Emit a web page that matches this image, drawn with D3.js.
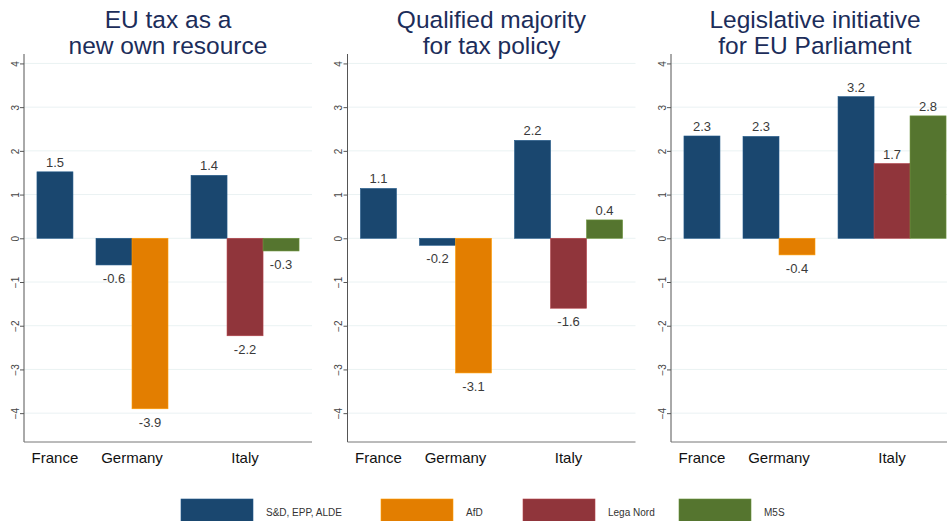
<!DOCTYPE html>
<html>
<head>
<meta charset="utf-8">
<script src="https://cdn.jsdelivr.net/npm/d3@7"></script>
<style>
	body{margin:0;background:#fff;}
	svg{display:block;font-family:"Liberation Sans",Arial,sans-serif;}
</style>
</head>
<body>
<div id="chart"></div>
<script>
// data
var panelTitles = [["EU tax as a","new own resource"],["Qualified majority","for tax policy"],["Legislative initiative","for EU Parliament"]]
var countries = ["France","Germany","Italy"]
var parties = ["S&D, EPP, ALDE","AfD","Lega Nord","M5S"]
var partyColors = ["#1a476f","#e37e00","#90353b","#55752f"]
// which parties are shown for each country (index into parties)
var countryParties = [[0],[0,1],[0,2,3]]
// values per panel, per country, per party shown
var euTax = [[1.52],[-0.61,-3.9],[1.44,-2.23,-0.29]]
var qmvTax = [[1.14],[-0.16,-3.08],[2.24,-1.6,0.42]]
var legInit = [[2.34],[2.33,-0.38],[3.24,1.71,2.8]]
var yTicks = [-4,-3,-2,-1,0,1,2,3,4]

var panels = [euTax,qmvTax,legInit]

var W = 947, H = 521
var svg = d3.select("#chart").append("svg").attr("width",W).attr("height",H)

var plotTop = 56, plotBottom = 442, plotW = 288, firstLeft = 24, panelStep = 323.5
// legend layout (box left edges)
var legendX = [181,381,523,679]

var y = d3.scaleLinear().domain([-4.66,4.17]).range([plotBottom,plotTop])
// x in "bar units": pad, France(1), gap, Germany(2), gap, Italy(3), pad
var x = d3.scaleLinear().domain([0,8]).range([0,plotW])
var pad = 0.36, gap = 0.64
var starts = []
var cur = pad
countryParties.forEach(function(p){ starts.push(cur); cur += p.length + gap })

panels.forEach(function(vals,pi){
	var left = firstLeft + pi*panelStep
	var g = svg.append("g").attr("transform","translate("+left+",0)")

	// grid
	g.selectAll(".grid").data(yTicks).enter().append("line")
		.attr("x1",0).attr("x2",plotW)
		.attr("y1",d=>y(d)).attr("y2",d=>y(d))
		.attr("stroke","#eaf2f3").attr("stroke-width",1)

	// y axis
	var ax = g.append("g").call(d3.axisLeft(y).tickValues(yTicks).tickSize(4).tickFormat(d3.format("d")))
	ax.select(".domain").remove()
	ax.selectAll(".tick line").attr("stroke","#555")
	ax.selectAll(".tick text")
		.attr("font-size",10).attr("fill","#444")
		.attr("x",0)
		.attr("text-anchor","middle")
		.attr("transform","translate(-9,0) rotate(-90)")
		.attr("dy","0.35em")
	g.append("line").attr("x1",0).attr("x2",0).attr("y1",plotTop-2).attr("y2",plotBottom)
		.attr("stroke","#555").attr("stroke-width",1)
	g.append("line").attr("x1",0).attr("x2",plotW).attr("y1",plotBottom).attr("y2",plotBottom)
		.attr("stroke","#777").attr("stroke-width",1)

	// bars
	var bars = []
	countries.forEach(function(c,ci){
		countryParties[ci].forEach(function(p,k){
			bars.push({party:p, v:vals[ci][k], x0:starts[ci]+k})
		})
	})
	g.selectAll(".bar").data(bars).enter().append("rect")
		.attr("x",d=>x(d.x0))
		.attr("width",x(1)-x(0))
		.attr("y",d=>y(Math.max(0,d.v)))
		.attr("height",d=>Math.abs(y(d.v)-y(0)))
		.attr("fill",d=>partyColors[d.party])
		.attr("stroke",d=>d3.color(partyColors[d.party]).brighter(0.6))
		.attr("stroke-width",0.6)

	g.selectAll(".lab").data(bars).enter().append("text")
		.attr("x",d=>x(d.x0+0.5))
		.attr("y",d=>d.v>=0 ? y(d.v)-5 : y(d.v)+18)
		.attr("text-anchor","middle")
		.attr("font-size",13).attr("fill","#3a3a3a")
		.text(d=>d.v.toFixed(1))

	// country labels
	g.selectAll(".cty").data(countries).enter().append("text")
		.attr("x",(d,i)=>x(starts[i]+countryParties[i].length/2))
		.attr("y",463)
		.attr("text-anchor","middle")
		.attr("font-size",15).attr("fill","#111")
		.text(d=>d)

	// title
	var t = g.append("text").attr("x",plotW/2).attr("text-anchor","middle")
		.attr("font-size",24.5).attr("fill","#1c2d5a")
	panelTitles[pi].forEach(function(s,li){
		t.append("tspan").attr("x",plotW/2).attr("y",28+li*26).text(s)
	})
})

// legend
var lg = svg.append("g")
parties.forEach(function(p,i){
	var lx = legendX[i]
	lg.append("rect").attr("x",lx).attr("y",499).attr("width",72).attr("height",24)
		.attr("fill",partyColors[i])
		.attr("stroke",d3.color(partyColors[i]).brighter(0.6)).attr("stroke-width",0.6)
	lg.append("text").attr("x",lx+85).attr("y",516)
		.attr("font-size",10).attr("fill","#333").text(p)
})
</script>
</body>
</html>
